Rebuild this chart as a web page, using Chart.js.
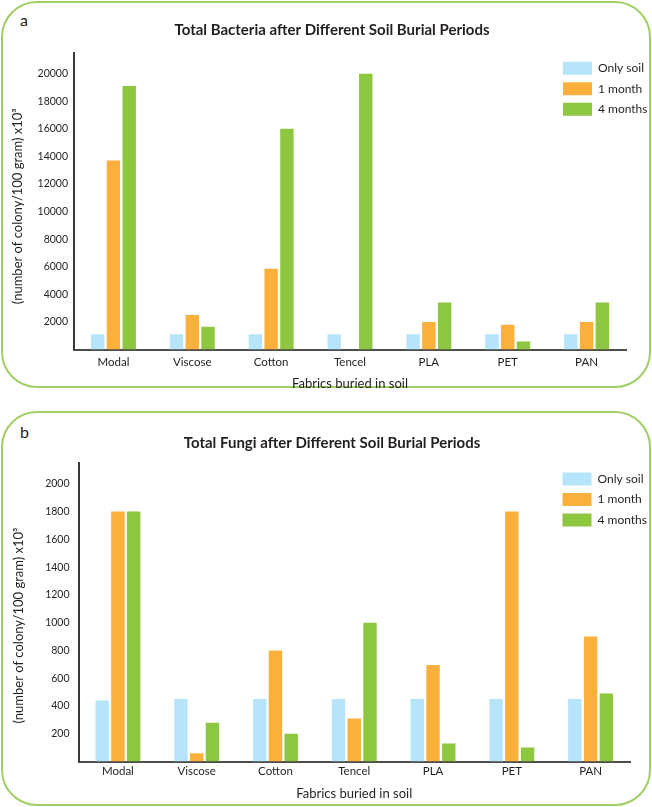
<!DOCTYPE html>
<html>
<head>
<meta charset="utf-8">
<script src="https://cdn.jsdelivr.net/npm/chart.js@4.4.1/dist/chart.umd.min.js"></script>
<style>
  html, body { margin: 0; padding: 0; background: #fff; overflow: hidden; }
  #page { position: relative; width: 652px; height: 807px; font-family: Lato, sans-serif; color: #231f20; }
  .panel { position: absolute; left: 1px; width: 650px; box-sizing: border-box; border: 2px solid #9fcf63; border-radius: 36px; }
  .tag { position: absolute; left: 20px; font-size: 16px; line-height: 1; }
  canvas { position: absolute; left: 0; }
</style>
</head>
<body>
<div id="page">
  <div class="panel" style="top:1px;height:387px"></div>
  <div class="panel" style="top:411px;height:395px"></div>
  <div class="tag" style="top:12px">a</div>
  <div class="tag" style="top:424px">b</div>
  <canvas id="chartBacteria" width="652" height="400" style="top:0"></canvas>
  <canvas id="chartFungi" width="652" height="402" style="top:405px"></canvas>
</div>
<script>
const fabrics = ['Modal', 'Viscose', 'Cotton', 'Tencel', 'PLA', 'PET', 'PAN'];
const periods = ['Only soil', '1 month', '4 months'];
const periodColors = ['#b5e4fb', '#fbb03b', '#8dc63f'];

// x10^3 colonies / 100 g
const bacteriaSoil = [1100, 1100, 1100, 1100, 1100, 1100, 1100];
const bacteria1Month = [13700, 2500, 5850, 0, 2000, 1800, 2000];
const bacteria4Months = [19100, 1650, 16000, 20000, 3400, 580, 3400];
const bacteriaTicks = [2000, 4000, 6000, 8000, 10000, 12000, 14000, 16000, 18000, 20000];

const fungiSoil = [440, 450, 450, 450, 450, 450, 450];
const fungi1Month = [1800, 60, 800, 310, 695, 1800, 900];
const fungi4Months = [1800, 280, 200, 1000, 130, 100, 490];
const fungiTicks = [200, 400, 600, 800, 1000, 1200, 1400, 1600, 1800, 2000];

const yTitle = '(number of colony/100 gram) x10\u00b3';
const xTitle = 'Fabrics buried in soil';

Chart.defaults.font.family = 'Lato, "Open Sans", sans-serif';
Chart.defaults.color = '#231f20';

// legend sits inside the plot, top right, not beside it
const legendAt = {
  id: 'legendAt',
  afterLayout(chart, args, opts) {
    const lg = chart.legend;
    lg.left = opts.x;
    lg.right = opts.x + 120;
    lg.top = opts.y;
    lg.bottom = opts.y + 120;
  },
};

function soilChart(id, c) {
  return new Chart(document.getElementById(id), {
    type: 'bar',
    data: {
      labels: fabrics,
      datasets: c.series.map((s, i) => ({
        label: periods[i],
        data: s,
        backgroundColor: periodColors[i],
        borderWidth: 0,
        categoryPercentage: 0.6,
        barPercentage: 0.85,
      })),
    },
    options: {
      responsive: false,
      animation: false,
      layout: { padding: { left: 12, right: 0, top: 0, bottom: 0 } },
      plugins: {
        title: {
          display: true,
          text: c.title,
          color: '#231f20',
          font: { size: 15, weight: 'bold' },
          padding: { top: c.titleTop, bottom: c.titleBottom },
        },
        legend: {
          position: 'right',
          align: 'start',
          maxWidth: c.legendRoom,
          labels: { boxWidth: 29, boxHeight: 13, padding: 7.5, font: { size: 12 } },
        },
        legendAt: { x: c.legendX, y: c.legendY },
        tooltip: { enabled: false },
      },
      scales: {
        x: {
          grid: { display: false, drawTicks: false },
          border: { color: '#4d4d4d', width: 2 },
          ticks: { padding: c.xTickPad, font: { size: 11.5 } },
          title: { display: true, text: xTitle, font: { size: 13 }, padding: { top: 0, bottom: c.xTitlePad } },
          afterFit: (s) => { s.height = c.xHeight; },
        },
        y: {
          min: 0,
          max: c.max,
          bounds: 'data',
          grid: { display: false, drawTicks: false },
          border: { color: '#3a3a3a', width: 2 },
          afterBuildTicks: (s) => { s.ticks = c.ticks.map((v) => ({ value: v })); },
          ticks: {
            padding: c.yTickPad,
            font: { size: 10.5 },
            callback: (v) => String(v),
          },
          title: { display: true, text: yTitle + c.yTitleTail, font: { size: 13 }, padding: { top: c.yTitlePad, bottom: 0 } },
          afterFit: (s) => { s.width = c.yWidth; },
        },
      },
    },
    plugins: [legendAt],
  });
}

soilChart('chartBacteria', {
  title: 'Total Bacteria after Different Soil Burial Periods',
  series: [bacteriaSoil, bacteria1Month, bacteria4Months],
  ticks: bacteriaTicks, max: 21500,
  titleTop: 21, titleBottom: 14,
  yWidth: 62, yTickPad: 6, yTitlePad: -2.3, yTitleTail: '\u00a0\u00a0\u00a0',
  xHeight: 50.5, xTickPad: 6, xTitlePad: 8.6,
  legendRoom: 26, legendX: 555.5, legendY: 54.3,
});

soilChart('chartFungi', {
  title: 'Total Fungi after Different Soil Burial Periods',
  series: [fungiSoil, fungi1Month, fungi4Months],
  ticks: fungiTicks, max: 2150,
  titleTop: 29, titleBottom: 11,
  yWidth: 66.5, yTickPad: 9, yTitlePad: -0.8, yTitleTail: '\u00a0\u00a0\u00a0\u00a0\u00a0\u00a0\u00a0\u00a0',
  xHeight: 45.5, xTickPad: 3, xTitlePad: 5.3,
  legendRoom: 22, legendX: 555, legendY: 60,
});
</script>
</body>
</html>
